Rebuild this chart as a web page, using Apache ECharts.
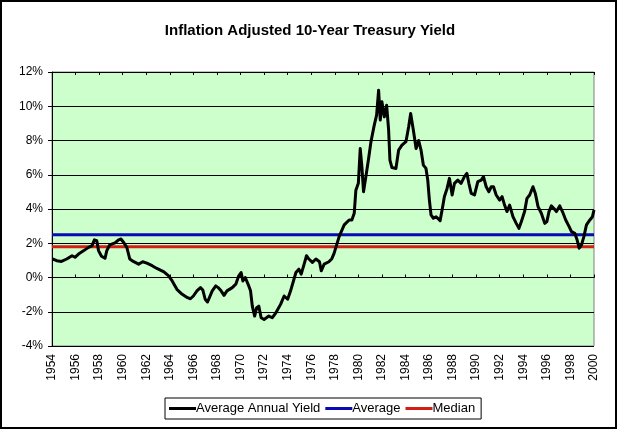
<!DOCTYPE html>
<html>
<head>
<meta charset="utf-8">
<script src="https://cdn.jsdelivr.net/npm/echarts@6/dist/echarts.min.js"></script>
<style>
html,body{margin:0;padding:0;background:#fff;}
#chart{width:620px;height:429px;}
</style>
</head>
<body>
<div id="chart"></div>
<script>
const titleText = 'Inflation Adjusted 10-Year Treasury Yield';
const seriesNames = ['Average Annual Yield', 'Average', 'Median'];
const years = [
1954.05,1954.4,1954.8,1955.25,1955.7,1955.95,1956.25,1956.7,1957.1,1957.4,
1957.6,1957.8,1957.95,1958.2,1958.5,1958.65,1958.9,1959.35,1959.65,1959.85,
1960.07,1960.35,1960.6,1960.9,1961.35,1961.7,1962.05,1962.5,1962.9,1963.5,
1963.9,1964.2,1964.6,1965.05,1965.5,1965.75,1966.0,1966.3,1966.6,1966.8,
1967.0,1967.2,1967.6,1967.9,1968.1,1968.35,1968.6,1968.85,1969.3,1969.6,
1969.85,1970.05,1970.2,1970.4,1970.7,1970.85,1971.0,1971.2,1971.37,1971.55,
1971.75,1972.0,1972.4,1972.7,1973.0,1973.4,1973.7,1974.0,1974.25,1974.7,
1974.95,1975.15,1975.4,1975.6,1975.8,1976.1,1976.4,1976.7,1976.85,1977.1,
1977.5,1977.75,1977.94,1978.37,1978.8,1979.22,1979.45,1979.65,1979.79,1980.0,
1980.16,1980.3,1980.44,1980.64,1980.87,1981.07,1981.35,1981.55,1981.72,1981.86,
1982.0,1982.2,1982.4,1982.57,1982.68,1982.85,1983.19,1983.42,1983.7,1984.04,
1984.27,1984.44,1984.67,1984.9,1985.12,1985.32,1985.52,1985.74,1985.89,1986.03,
1986.17,1986.37,1986.6,1986.94,1987.16,1987.3,1987.53,1987.73,1987.96,1988.16,
1988.44,1988.72,1989.0,1989.21,1989.38,1989.58,1989.86,1990.14,1990.43,1990.62,
1990.85,1991.08,1991.28,1991.47,1991.7,1991.99,1992.2,1992.41,1992.61,1992.84,
1993.12,1993.4,1993.63,1993.83,1994.11,1994.31,1994.54,1994.82,1995.02,1995.25,
1995.53,1995.82,1996.0,1996.18,1996.38,1996.58,1996.81,1997.09,1997.32,1997.6,
1997.89,1998.09,1998.37,1998.57,1998.74,1998.94,1999.14,1999.36,1999.65,1999.87,
2000.0
];
const yields = [
1.08,0.98,0.94,1.08,1.27,1.18,1.37,1.57,1.76,1.86,
2.2,2.15,1.57,1.24,1.12,1.57,1.9,2.02,2.2,2.25,
2.06,1.76,1.08,0.94,0.78,0.92,0.84,0.69,0.53,0.33,
0.1,-0.2,-0.69,-0.98,-1.18,-1.24,-1.08,-0.78,-0.59,-0.73,
-1.27,-1.43,-0.78,-0.49,-0.59,-0.78,-1.04,-0.78,-0.59,-0.39,
0.1,0.29,-0.2,0.0,-0.49,-0.78,-1.67,-2.25,-1.76,-1.67,
-2.35,-2.45,-2.25,-2.35,-2.06,-1.57,-1.08,-1.27,-0.78,0.29,
0.49,0.2,0.78,1.27,1.08,0.88,1.08,0.92,0.39,0.78,
0.92,1.1,1.41,2.39,3.07,3.36,3.36,3.75,5.1,5.5,
7.53,6.47,5.01,5.89,6.95,7.93,8.9,9.48,10.94,9.19,
10.26,9.38,10.06,8.6,6.85,6.42,6.37,7.44,7.73,7.93,
8.8,9.58,8.6,7.53,8.0,7.44,6.56,6.37,5.69,4.52,
3.65,3.46,3.55,3.32,4.14,4.72,5.2,5.79,4.82,5.5,
5.69,5.5,5.89,6.08,5.5,4.91,4.82,5.6,5.69,5.89,
5.3,5.01,5.3,5.3,4.82,4.52,4.72,4.23,3.85,4.23,
3.55,3.16,2.87,3.26,3.85,4.62,4.82,5.3,4.91,4.14,
3.75,3.16,3.26,3.85,4.18,4.04,3.85,4.18,3.85,3.36,
2.97,2.68,2.58,2.19,1.71,1.9,2.39,3.07,3.36,3.55,
3.94
];
const averageValue = 2.5;
const medianValue = 1.8;
const xRange = [1954, 2000];
const yRange = [-4, 12];

const chart = echarts.init(document.getElementById('chart'), null, {renderer: 'canvas'});
const FONT = 'Liberation Sans, Arial, sans-serif';
const xBase = {type: 'value', min: xRange[0], max: xRange[1], interval: 2, splitLine: {show: false}};

chart.setOption({
  animation: false,
  backgroundColor: '#ffffff',
  title: {
    text: titleText, left: 'center', top: 18,
    textStyle: {fontFamily: FONT, fontSize: 15, fontWeight: 'bold', color: '#000'}
  },
  grid: {
    left: 52, top: 72, width: 542, height: 274,
    show: true, backgroundColor: '#CCFFCC', borderColor: '#808080', borderWidth: 1
  },
  legend: {
    left: 165, top: 398,
    padding: [4, 6, 4, 4],
    borderColor: '#000', borderWidth: 1,
    itemWidth: 27, itemHeight: 3, itemGap: 5,
    textStyle: {fontFamily: FONT, fontSize: 13, color: '#000', padding: [0, 0, 0, -5]},
    data: seriesNames.map(n => ({name: n, icon: 'rect'}))
  },
  xAxis: [
    Object.assign({}, xBase, {
      position: 'bottom',
      axisLine: {show: false, onZero: false},
      axisTick: {show: false},
      axisLabel: {rotate: 90, margin: 8, color: '#000', fontFamily: FONT, fontSize: 12,
        formatter: v => String(v)}
    }),
    Object.assign({}, xBase, {
      position: 'top',
      axisLine: {show: true, onZero: true, lineStyle: {color: '#000', width: 1}},
      axisTick: {show: true, inside: false, length: 3, lineStyle: {color: '#000'}},
      axisLabel: {show: false}
    }),
    Object.assign({}, xBase, {
      position: 'top',
      axisLine: {show: true, onZero: true, lineStyle: {color: '#000', width: 1}},
      axisTick: {show: true, inside: true, length: 3, lineStyle: {color: '#000'}},
      axisLabel: {show: false}
    })
  ],
  yAxis: {
    type: 'value', min: yRange[0], max: yRange[1], interval: 2,
    axisLine: {show: true, onZero: false, lineStyle: {color: '#000', width: 1}},
    axisTick: {show: true, length: 4, lineStyle: {color: '#000'}},
    axisLabel: {margin: 9, color: '#000', fontFamily: FONT, fontSize: 12, formatter: '{value}%'},
    splitLine: {show: true, lineStyle: {color: '#000', width: 1}}
  },
  series: [
    {
      name: seriesNames[1], type: 'line', xAxisIndex: 0, symbol: 'none', z: 3,
      color: '#0a0ab4', lineStyle: {width: 3, color: '#0a0ab4'},
      data: xRange.map(x => [x, averageValue])
    },
    {
      name: seriesNames[2], type: 'line', xAxisIndex: 0, symbol: 'none', z: 3,
      color: '#d21e14', lineStyle: {width: 3, color: '#d21e14'},
      data: xRange.map(x => [x, medianValue])
    },
    {
      name: seriesNames[0], type: 'line', xAxisIndex: 0, symbol: 'none', z: 4,
      color: '#000', lineStyle: {width: 3, color: '#000', join: 'round'},
      data: years.map((y, i) => [y, yields[i]])
    }
  ],
  graphic: [{
    type: 'rect', silent: true, z: 100,
    shape: {x: 1, y: 1, width: 615, height: 427},
    style: {fill: null, stroke: '#000', lineWidth: 2}
  }]
});
</script>
</body>
</html>
